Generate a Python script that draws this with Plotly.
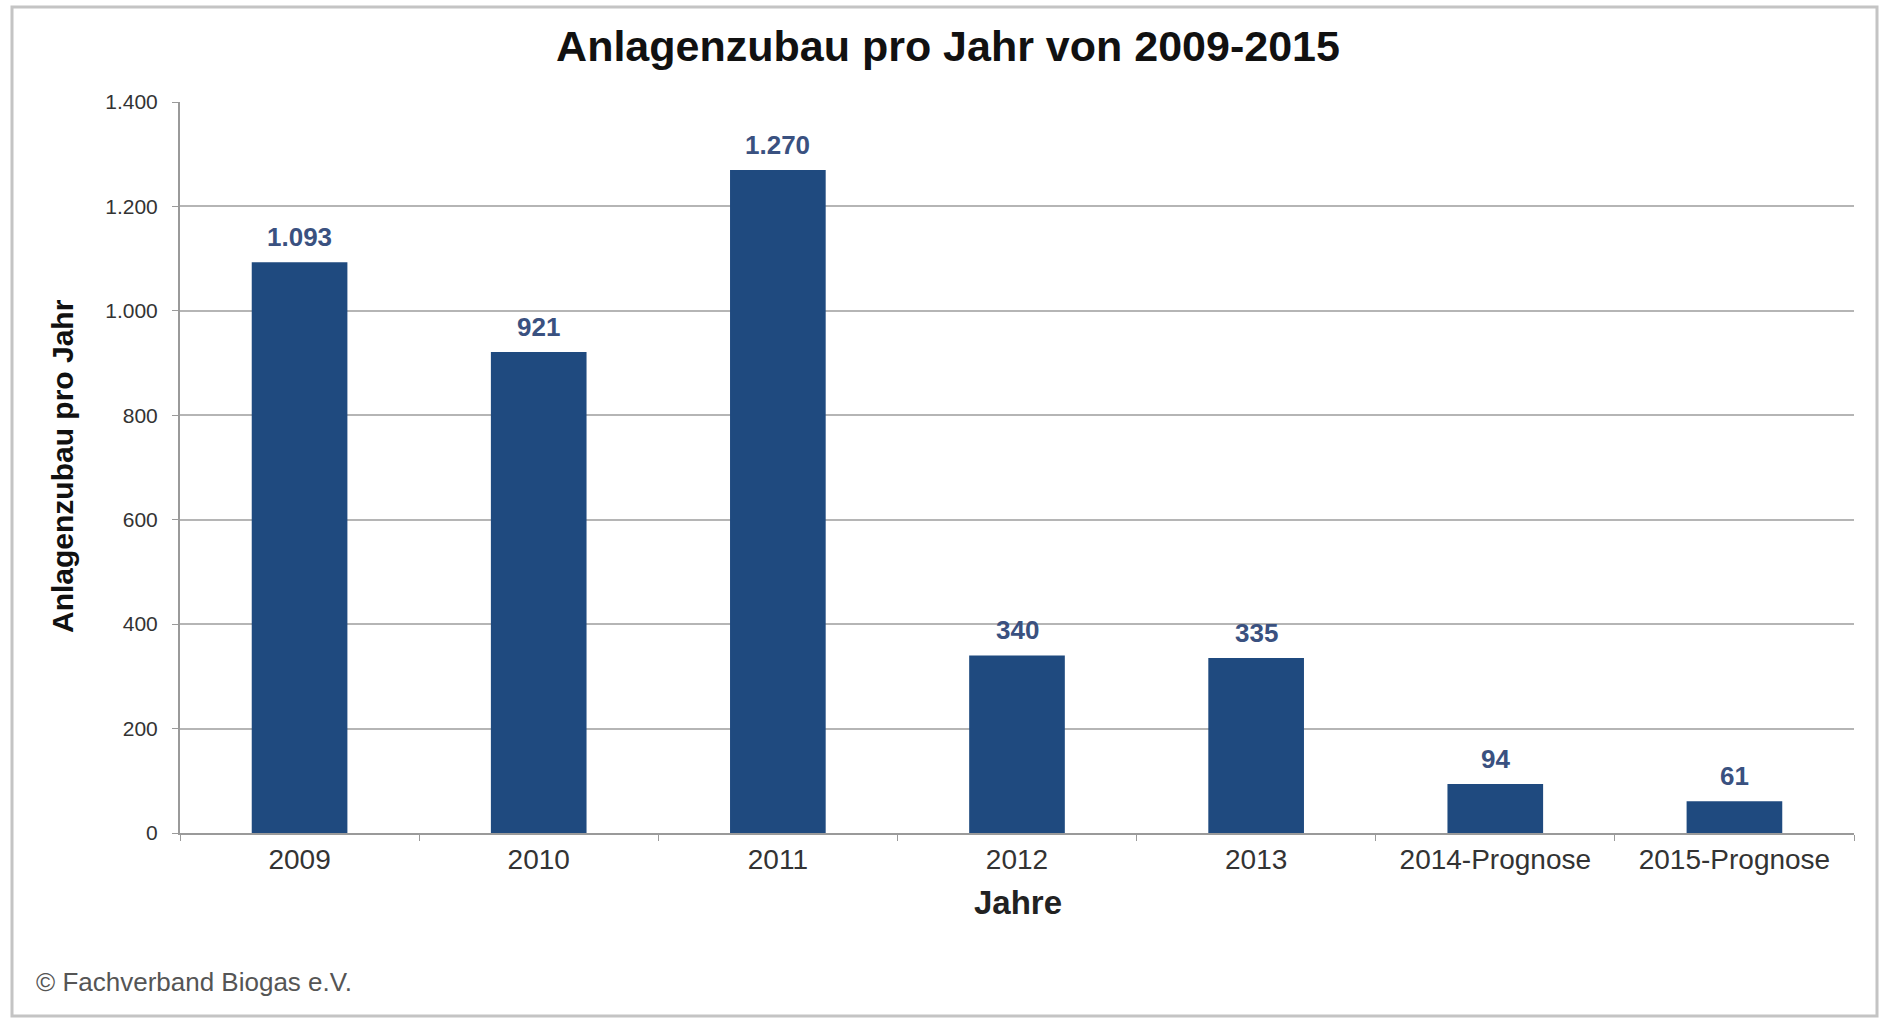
import plotly.graph_objects as go

categories = ["2009", "2010", "2011", "2012", "2013", "2014-Prognose", "2015-Prognose"]
values = [1093, 921, 1270, 340, 335, 94, 61]
y_ticks = [0, 200, 400, 600, 800, 1000, 1200, 1400]

W, H = 1881, 1020
L, R, T, B = 180, 1854, 102, 833
pw, ph = R - L, B - T


def px_x(x):
    return (x - L) / pw


def px_y(y):
    return (B - y) / ph


FONT = "Liberation Sans, Arial, sans-serif"
BAR = "#1F4A7F"
LABEL = "#3A5180"

fig = go.Figure()
fig.add_trace(go.Bar(
    x=categories, y=values,
    marker=dict(color=BAR, line=dict(width=0)),
    showlegend=False,
))

for i, v in enumerate(values):
    fig.add_annotation(
        x=i, y=v, xref="x", yref="y",
        text=f"{v:,}".replace(",", "."),
        showarrow=False, yanchor="bottom", yshift=8,
        font=dict(family=FONT, size=26, color=LABEL, weight="bold"),
    )

# y-axis title
fig.add_annotation(
    x=px_x(62), y=px_y(466), xref="paper", yref="paper",
    text="Anlagenzubau pro Jahr", textangle=-90, showarrow=False,
    xanchor="center", yanchor="middle",
    font=dict(family=FONT, size=30, color="#111111", weight="bold"),
)
# x-axis title
fig.add_annotation(
    x=px_x(1018), y=px_y(902), xref="paper", yref="paper",
    text="Jahre", showarrow=False, xanchor="center", yanchor="middle",
    font=dict(family=FONT, size=33, color="#222222", weight="bold"),
)
# footer
fig.add_annotation(
    x=px_x(34), y=px_y(982), xref="paper", yref="paper",
    text="© Fachverband Biogas e.V.", showarrow=False,
    xanchor="left", yanchor="middle",
    font=dict(family=FONT, size=26, color="#555555"),
)

# outer frame
fig.add_shape(
    type="rect", xref="paper", yref="paper",
    x0=px_x(12), x1=px_x(1877), y0=px_y(1016), y1=px_y(7),
    line=dict(color="#C4C4C4", width=3), fillcolor="rgba(0,0,0,0)",
    layer="below",
)

fig.update_layout(
    width=W, height=H,
    margin=dict(l=L, r=W - R, t=T, b=H - B, pad=0),
    paper_bgcolor="white", plot_bgcolor="white",
    separators=",.",
    bargap=0.6,
    title=dict(
        text="Anlagenzubau pro Jahr von 2009-2015",
        x=948 / W, xref="container", xanchor="center",
        y=1 - 46 / H, yref="container", yanchor="middle",
        font=dict(family=FONT, size=43, color="#111111", weight="bold"),
    ),
    xaxis=dict(
        type="category", range=[-0.5, 6.5],
        showline=True, linecolor="#9A9A9A", linewidth=2,
        ticks="outside", tickson="boundaries", ticklen=6, tickcolor="#9A9A9A",
        tickfont=dict(family=FONT, size=28, color="#333333"),
        showgrid=False, zeroline=False, fixedrange=True,
    ),
    yaxis=dict(
        range=[0, 1400], tickvals=y_ticks, tickformat=",d",
        showline=True, linecolor="#9A9A9A", linewidth=2,
        ticks="outside", ticklen=6, tickcolor="#9A9A9A",
        ticklabelstandoff=10,
        tickfont=dict(family=FONT, size=21, color="#333333"),
        showgrid=True, gridcolor="#B5B5B5", gridwidth=2,
        zeroline=False, fixedrange=True,
    ),
)

fig.write_html(
    "out.html",
    config={"displayModeBar": False},
    post_script="document.body.style.margin='0';document.body.style.overflow='hidden';",
)
